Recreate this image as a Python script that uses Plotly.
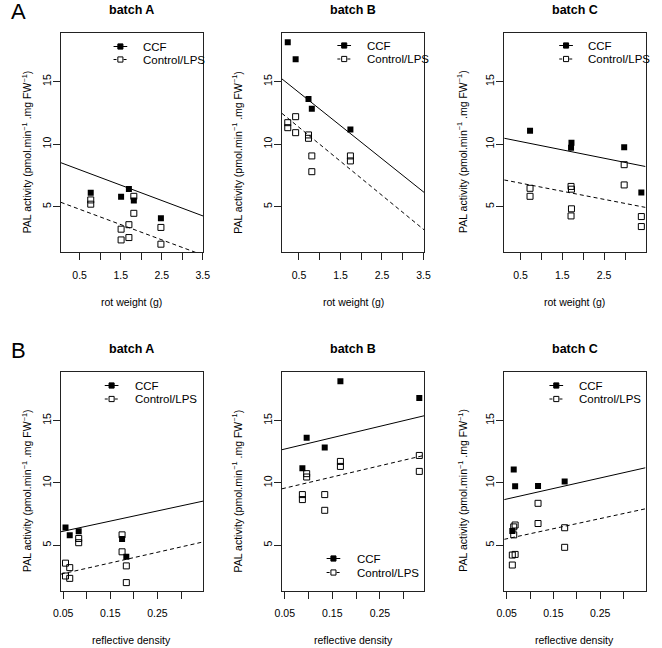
import plotly.graph_objects as go

# ---------------- data ----------------
batches = ["batch A", "batch B", "batch C"]

rot_A = [1.70, 1.51, 0.77, 1.82, 2.48]
rd_A = [0.055, 0.064, 0.083, 0.175, 0.184]
ccf_A = [6.42, 5.80, 6.12, 5.50, 4.07]
lps1_A = [3.56, 3.20, 5.54, 5.83, 3.34]
lps2_A = [2.53, 2.34, 5.20, 4.47, 2.00]

rot_B = [0.23, 0.42, 0.73, 0.81, 1.74]
rd_B = [0.167, 0.333, 0.096, 0.134, 0.087]
ccf_B = [18.15, 16.80, 13.62, 12.83, 11.18]
lps1_B = [11.72, 12.20, 10.74, 9.06, 9.06]
lps2_B = [11.32, 10.92, 10.47, 7.80, 8.66]

rot_C = [0.73, 1.71, 1.72, 2.98, 3.39]
rd_C = [0.065, 0.068, 0.174, 0.117, 0.062]
ccf_C = [11.08, 9.72, 10.12, 9.75, 6.13]
lps1_C = [6.47, 6.62, 6.40, 8.36, 4.21]
lps2_C = [5.83, 4.26, 4.83, 6.74, 3.41]

# fitted lines (intercept, slope)
fit_rot_ccf = [(8.57, -1.23), (15.46, -2.65), (10.55, -0.67)]
fit_rot_lps = [(5.40, -1.22), (12.71, -2.72), (7.21, -0.65)]
fit_rd_ccf = [(5.71, 8.15), (12.26, 9.10), (8.28, 8.45)]
fit_rd_lps = [(2.29, 8.57), (9.13, 8.96), (5.11, 8.10)]

rot_ticks = [0.5, 1.5, 2.5, 3.5]
rot_minor = [1.0, 2.0, 3.0]
rd_ticks = [0.05, 0.15, 0.25]
rd_minor = [0.10, 0.20, 0.30]
y_ticks = [5, 10, 15]

panel_letters = ["A", "B"]
series_names = ["CCF", "Control/LPS"]
x_titles = ["rot weight (g)", "reflective density"]
y_title = "PAL activity (pmol.min<sup>\u22121</sup> .mg FW<sup>\u22121</sup>)"

# ---------------- layout constants ----------------
W, H = 662, 648
FONT = "Liberation Sans, Arial, Helvetica, sans-serif"
col_px = [(54.0, 199.7), (280.3, 425.7), (507.7, 652.3)]
row_px = [(33.3, 252.3), (372.3, 590.7)]
x_ranges = [[(0.04, 3.51), (0.09, 3.515), (0.112, 3.49)],
            [(0.045, 0.347), (0.044, 0.343), (0.0446, 0.347)]]
y_range = (1.35, 18.87)
ytitle_dx = [-35, -46, -43]
DASH = "4px,3px"

legend_pos = {
    (0, 0): dict(mx=115, tx=136, y1=46.5, y2=59.5),
    (0, 1): dict(mx=344, tx=365, y1=45.5, y2=59.0),
    (0, 2): dict(mx=571, tx=591, y1=45.5, y2=59.0),
    (1, 0): dict(mx=106, tx=128, y1=385.5, y2=399.0),
    (1, 1): dict(mx=333, tx=355, y1=558.5, y2=572.5),
    (1, 2): dict(mx=561, tx=582, y1=385.5, y2=399.0),
}


def px_x(p):
    return p / W


def px_y(p):
    return 1 - p / H


xs_rot = [rot_A, rot_B, rot_C]
xs_rd = [rd_A, rd_B, rd_C]
ccf = [ccf_A, ccf_B, ccf_C]
lps1 = [lps1_A, lps1_B, lps1_C]
lps2 = [lps2_A, lps2_B, lps2_C]
fits = [(fit_rot_ccf, fit_rot_lps), (fit_rd_ccf, fit_rd_lps)]

fig = go.Figure()
annotations = []
shapes = []

for r in range(2):
    xs = xs_rot if r == 0 else xs_rd
    for c in range(3):
        k = r * 3 + c + 1
        xa = "x" if k == 1 else f"x{k}"
        ya = "y" if k == 1 else f"y{k}"
        xr = x_ranges[r][c]
        # points
        fig.add_trace(go.Scatter(
            x=xs[c], y=ccf[c], mode="markers", xaxis=xa, yaxis=ya,
            marker=dict(symbol="square", size=6, color="black"),
            showlegend=False, name=series_names[0]))
        fig.add_trace(go.Scatter(
            x=xs[c] + xs[c], y=lps1[c] + lps2[c], mode="markers", xaxis=xa, yaxis=ya,
            marker=dict(symbol="square-open", size=6, color="black",
                        line=dict(width=1, color="black")),
            showlegend=False, name=series_names[1]))
        # fitted lines
        for (fit, dash) in ((fits[r][0][c], "solid"), (fits[r][1][c], DASH)):
            b0, b1 = fit
            lx = [xr[0], xr[1]]
            ly = [b0 + b1 * v for v in lx]
            fig.add_trace(go.Scatter(
                x=lx, y=ly, mode="lines", xaxis=xa, yaxis=ya,
                line=dict(color="black", width=1, dash=dash),
                showlegend=False, hoverinfo="skip"))

        x0, x1 = col_px[c]
        y0, y1 = row_px[r]
        ax_common = dict(showgrid=False, zeroline=False, showline=True, mirror=True,
                         linecolor="#222", linewidth=1, ticks="outside", ticklen=7,
                         tickcolor="#222", tickfont=dict(family=FONT, size=10.5, color="black"))
        fig.layout[f"xaxis{'' if k == 1 else k}"] = dict(
            domain=[px_x(x0), px_x(x1)], range=list(xr), anchor=ya,
            tickvals=rot_ticks if r == 0 else rd_ticks,
            ticktext=[f"{v:.1f}" for v in rot_ticks] if r == 0 else [f"{v:.2f}" for v in rd_ticks],
            minor=dict(tickvals=rot_minor if r == 0 else rd_minor, ticks="outside",
                       ticklen=7, tickcolor="#222", showgrid=False),
            ticklabelstandoff=6, **ax_common)
        fig.layout[f"yaxis{'' if k == 1 else k}"] = dict(
            domain=[px_y(y1), px_y(y0)], range=list(y_range), anchor=xa,
            tickvals=y_ticks, tickangle=-90, **ax_common)
        try:
            fig.layout[f"yaxis{'' if k == 1 else k}"].ticklabelstandoff = -2
        except Exception:
            pass

        # panel title
        annotations.append(dict(text="<b>" + batches[c] + "</b>", xref="paper", yref="paper",
                                x=px_x((x0 + x1) / 2), y=px_y(y0 - 23.5), showarrow=False,
                                xanchor="center", yanchor="middle",
                                font=dict(family=FONT, size=12.5, color="black")))
        # x title
        annotations.append(dict(text=x_titles[r], xref="paper", yref="paper",
                                x=px_x((x0 + x1) / 2), y=px_y(y1 + 49.5), showarrow=False,
                                xanchor="center", yanchor="middle",
                                font=dict(family=FONT, size=10.5, color="black")))
        # y title
        annotations.append(dict(text=y_title, xref="paper", yref="paper", textangle=-90,
                                x=px_x(x0 + ytitle_dx[c]), y=px_y((y0 + y1) / 2 + 9),
                                showarrow=False, xanchor="center", yanchor="middle",
                                font=dict(family=FONT, size=10.5, color="black")))
        # legend (drawn as in the reference: short line with marker, then label)
        lp = legend_pos[(r, c)]
        for i, yy in enumerate((lp["y1"], lp["y2"])):
            shapes.append(dict(type="line", xref="paper", yref="paper",
                               x0=px_x(lp["mx"] - 7), x1=px_x(lp["mx"] + 7),
                               y0=px_y(yy), y1=px_y(yy),
                               line=dict(color="black", width=1,
                                         dash="solid" if i == 0 else "3px,2px")))
            shapes.append(dict(type="rect", xref="paper", yref="paper",
                               x0=px_x(lp["mx"] - 2.6), x1=px_x(lp["mx"] + 2.6),
                               y0=px_y(yy + 2.6), y1=px_y(yy - 2.6),
                               fillcolor="black" if i == 0 else "white",
                               line=dict(color="black", width=1)))
            annotations.append(dict(text=series_names[i], xref="paper", yref="paper",
                                    x=px_x(lp["tx"]), y=px_y(yy), showarrow=False,
                                    xanchor="left", yanchor="middle",
                                    font=dict(family=FONT, size=11.5, color="black")))

# panel letters
for r, letter in enumerate(panel_letters):
    annotations.append(dict(text=letter, xref="paper", yref="paper",
                            x=px_x(11), y=px_y(row_px[r][0] - 22), showarrow=False,
                            xanchor="center", yanchor="middle",
                            font=dict(family=FONT, size=22, color="black")))

fig.update_layout(width=W, height=H, margin=dict(l=0, r=0, t=0, b=0),
                  paper_bgcolor="white", plot_bgcolor="white",
                  annotations=annotations, shapes=shapes, showlegend=False,
                  font=dict(family=FONT, color="black"))

fig.write_html("out.html", config={"displayModeBar": False},
               post_script="document.body.style.margin='0px';"
                           "document.body.style.overflow='hidden';")
